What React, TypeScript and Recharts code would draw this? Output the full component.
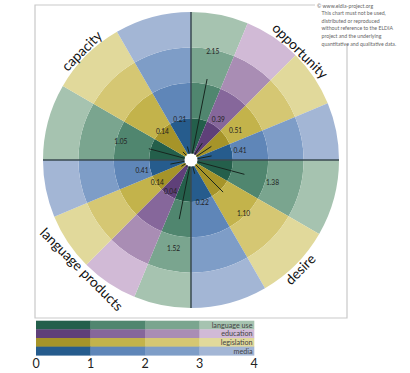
import { PieChart, Pie, Cell } from 'recharts'

// sectors clockwise from 12 o'clock
const quadrants = ['opportunity', 'desire', 'language products', 'capacity']
const sectorQuadrant = [
  'opportunity', 'opportunity', 'opportunity', 'opportunity',
  'desire', 'desire', 'desire',
  'language products', 'language products', 'language products', 'language products',
  'capacity', 'capacity', 'capacity',
]
const sectorDimension = [
  'language use', 'education', 'legislation', 'media',
  'language use', 'legislation', 'media',
  'language use', 'education', 'legislation', 'media',
  'language use', 'legislation', 'media',
]
const sectorScores = [2.15, 0.39, 0.51, 0.41, 1.38, 1.10, 0.22, 1.52, 0.04, 0.14, 0.41, 1.05, 0.14, 0.21]
const dimensions = ['language use', 'education', 'legislation', 'media']
const scaleTicks = [0, 1, 2, 3, 4]
const copyright = [
  '© www.eldia-project.org',
  'This chart must not be used,',
  'distributed or reproduced',
  'without reference to the ELDIA',
  'project and the underlying',
  'quantitative and qualitative data.',
]

const palette: Record<string, string[]> = {
  'language use': ['#245f4b', '#50866f', '#7aa58f', '#a6c3b0'],
  education: ['#5f4079', '#86679b', '#a98db4', '#d1bad6'],
  legislation: ['#a69429', '#c3b34b', '#d5c773', '#e1d99b'],
  media: ['#265c8d', '#5f86b8', '#7e9dc7', '#a3b6d5'],
}

const CX = 191
const CY = 160
const HOLE = 6.5
const R = 148
const MAX = 4
const rScale = (v: number) => HOLE + (v / MAX) * (R - HOLE)
const RAD = Math.PI / 180
const FONT = 'Lato, "Open Sans", sans-serif'

const sectors = sectorScores.map((score, i) => ({
  quadrant: sectorQuadrant[i],
  dimension: sectorDimension[i],
  score,
  span: 90 / sectorQuadrant.filter(q => q === sectorQuadrant[i]).length,
}))
const quadrantData = quadrants.map(name => ({ name, span: 90 }))

const renderScore = (p: any) => {
  const s = sectors[p.index]
  const a = p.midAngle * RAD
  const cx = p.cx ?? CX
  const cy = p.cy ?? CY
  const pt = (r: number) => [cx + r * Math.cos(a), cy - r * Math.sin(a)]
  const [x1, y1] = pt(HOLE)
  const [x2, y2] = pt(rScale(s.score))
  const [tx, ty] = pt(rScale(s.score) + 29)
  return (
    <g key={`score-${p.index}`}>
      <line x1={x1} y1={y1} x2={x2} y2={y2} stroke="#17261f" strokeWidth={1} />
      <text x={tx} y={ty} textAnchor="middle" dominantBaseline="central"
        fontSize={6.6} fontFamily={FONT} fill="#222">{s.score.toFixed(2)}</text>
    </g>
  )
}

const renderQuadrant = (p: any) => {
  const cx = p.cx ?? CX
  const cy = p.cy ?? CY
  const mid = p.midAngle
  const a = mid * RAD
  const s = p.startAngle * RAD
  const tr = Math.sin(a) > 0 ? 155 : 154
  const tx = cx + tr * Math.cos(a)
  const ty = cy - tr * Math.sin(a)
  const rot = Math.sin(a) > 0 ? 90 - mid : -90 - mid
  return (
    <g key={`quad-${p.index}`}>
      <line x1={cx + HOLE * Math.cos(s)} y1={cy - HOLE * Math.sin(s)}
        x2={cx + R * Math.cos(s)} y2={cy - R * Math.sin(s)}
        stroke="#3a4a50" strokeWidth={1.5} />
      <text x={tx} y={ty} textAnchor="middle" dominantBaseline="central"
        transform={`rotate(${rot}, ${tx}, ${ty})`}
        fontSize={13.8} fontFamily={FONT} fill="#111">{quadrantData[p.index].name}</text>
    </g>
  )
}

const LEG_X = 36
const LEG_W = 54.5
const LEG_Y = 320.7
const LEG_H = 8.65

export default function App() {
  return (
    <div style={{ position: 'fixed', left: 0, top: 0, width: 410, height: 373, background: '#fff' }}>
      <svg width={410} height={373} style={{ position: 'absolute', left: 0, top: 0 }}>
        <polyline points="315,5 35,5 35,318 347,318 347,44" fill="none" stroke="#c9c9c9" strokeWidth={1.2} />
        {dimensions.map((d, row) => (
          <g key={d}>
            {palette[d].map((c, lvl) => (
              <rect key={lvl} x={LEG_X + lvl * LEG_W} y={LEG_Y + row * LEG_H}
                width={LEG_W + 0.3} height={LEG_H + 0.3} fill={c} />
            ))}
            <text x={LEG_X + 4 * LEG_W - 1.5} y={LEG_Y + row * LEG_H + LEG_H / 2 + 0.3}
              textAnchor="end" dominantBaseline="central" fontSize={7.2} fontFamily={FONT} fill="#444">{d}</text>
          </g>
        ))}
        {scaleTicks.map(t => (
          <text key={t} x={LEG_X + t * LEG_W} y={363} textAnchor="middle" dominantBaseline="central"
            fontSize={12.5} fontFamily={FONT} fill="#222">{t}</text>
        ))}
        {copyright.map((line, i) => (
          <text key={i} x={i === 0 ? 317 : 321.5} y={5.5 + i * 7.6} dominantBaseline="central"
            fontSize={5.2} fontFamily={FONT} fill="#666">{line}</text>
        ))}
      </svg>
      <div style={{ position: 'absolute', left: 0, top: 0 }}>
        <PieChart width={410} height={373} margin={{ top: 0, right: 0, bottom: 0, left: 0 }}>
          {[0, 1, 2, 3].map(level => (
            <Pie key={`ring-${level}`} data={sectors} dataKey="span" cx={CX} cy={CY}
              innerRadius={rScale(level)} outerRadius={rScale(level + 1)}
              startAngle={90} endAngle={-270} stroke="none" isAnimationActive={false}>
              {sectors.map((s, i) => (
                <Cell key={i} fill={palette[s.dimension][level]} stroke="none" />
              ))}
            </Pie>
          ))}
          <Pie data={sectors} dataKey="span" cx={CX} cy={CY} innerRadius={HOLE} outerRadius={HOLE + 0.5}
            startAngle={90} endAngle={-270} fill="none" stroke="none"
            label={renderScore} labelLine={false} isAnimationActive={false} />
          <Pie data={quadrantData} dataKey="span" cx={CX} cy={CY} innerRadius={HOLE} outerRadius={HOLE + 0.5}
            startAngle={90} endAngle={-270} fill="none" stroke="none"
            label={renderQuadrant} labelLine={false} isAnimationActive={false} />
          <Pie data={[{ name: 'hole', span: 1 }]} dataKey="span" cx={CX} cy={CY} innerRadius={0} outerRadius={HOLE}
            fill="#fff" stroke="none" isAnimationActive={false} />
        </PieChart>
      </div>
    </div>
  )
}
